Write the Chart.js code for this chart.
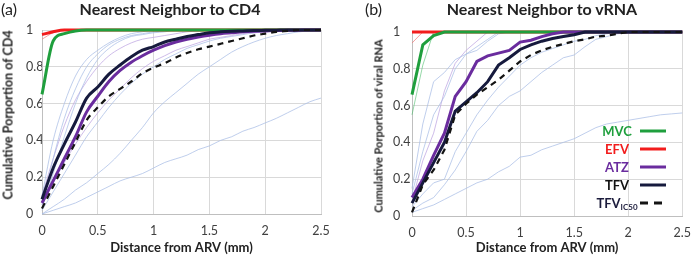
<!DOCTYPE html>
<html>
<head>
<meta charset="utf-8">
<script src="https://cdn.jsdelivr.net/npm/chart.js@4"></script>
<style>
  body { margin: 0; background: #fff; font-family: Lato, "Open Sans", sans-serif; }
  #wrap { position: relative; width: 700px; height: 256px; overflow: hidden; }
  .panel { position: absolute; top: 0; width: 350px; height: 256px; }
  .tag { position: absolute; top: 0; font-size: 16px; line-height: 18px; color: #222; }
  .ttl { position: absolute; top: 0; font-size: 16px; font-weight: bold; line-height: 18px; color: #222; text-align: center; white-space: nowrap; }
  .ytitle { position: absolute; font-weight: bold; color: #222; white-space: nowrap;
            transform: translate(-50%, -50%) rotate(-90deg); }
  .lg { position: absolute; font-size: 13px; font-weight: bold; line-height: 16px; text-align: center; width: 50px; white-space: nowrap; }
  .lg sub { font-size: 8px; vertical-align: -2px; }
  .lgline { position: absolute; width: 26px; height: 6px; }
</style>
</head>
<body>
<div id="wrap">
  <div class="panel" style="left:0"><canvas id="chartA"></canvas></div>
  <div class="panel" style="left:350px"><canvas id="chartB"></canvas></div>

  <div class="tag" style="left:1px">(a)</div>
  <div class="ttl" style="left:70px;width:200px">Nearest Neighbor to CD4</div>
  <div class="ytitle" style="left:8px;top:115px;font-size:12.5px">Cumulative Porportion of CD4</div>

  <div class="tag" style="left:365px">(b)</div>
  <div class="ttl" style="left:442px;width:200px">Nearest Neighbor to vRNA</div>
  <div class="ytitle" style="left:378px;top:126px;font-size:11px">Cumulative Porportion of viral RNA</div>

  <div id="legend"></div>
</div>

<script>
// distance from ARV (mm), shared x values
const dist = [0, 0.1, 0.2, 0.3, 0.4, 0.5, 0.6, 0.7, 0.8, 0.9, 1.0, 1.1, 1.2,
              1.3, 1.4, 1.5, 1.6, 1.7, 1.8, 1.9, 2.0, 2.1, 2.2, 2.3, 2.4, 2.5];

// (a) nearest neighbor to CD4 - main curves
const cd4MVC  = [0.65,0.94,0.98,0.995,1,1,1,1,1,1,1,1,1,1,1,1,1,1,1,1,1,1,1,1,1,1];
const cd4EFV  = [0.975,0.99,1,1,1,1,1,1,1,1,1,1,1,1,1,1,1,1,1,1,1,1,1,1,1,1];
const cd4ATZ  = [0.06,0.18,0.30,0.42,0.555,0.64,0.72,0.78,0.825,0.86,0.89,0.915,0.935,0.95,0.962,0.972,0.98,0.985,0.99,0.993,0.995,0.997,0.998,0.999,1,1];
const cd4TFV  = [0.08,0.25,0.38,0.50,0.63,0.69,0.76,0.81,0.855,0.89,0.91,0.935,0.95,0.965,0.975,0.985,0.99,0.993,0.995,0.997,0.998,0.999,1,1,1,1];
const cd4IC50 = [0.03,0.15,0.27,0.39,0.51,0.58,0.64,0.68,0.72,0.765,0.795,0.82,0.85,0.875,0.895,0.91,0.925,0.94,0.955,0.97,0.98,0.99,0.995,1,1,1];
// (a) individual replicates (thin)
const cd4Rep1 = [0,0.02,0.04,0.06,0.09,0.12,0.15,0.18,0.2,0.22,0.25,0.28,0.3,0.32,0.35,0.37,0.4,0.42,0.45,0.47,0.495,0.52,0.55,0.58,0.61,0.63];
const cd4Rep2 = [0,0.04,0.08,0.13,0.17,0.22,0.27,0.33,0.4,0.47,0.55,0.61,0.66,0.71,0.76,0.8,0.84,0.88,0.91,0.935,0.955,0.97,0.98,0.99,0.995,1];
const cd4Rep3 = [0.1,0.4,0.6,0.75,0.84,0.89,0.93,0.96,0.98,0.99,1,1,1,1,1,1,1,1,1,1,1,1,1,1,1,1];
const cd4Rep4 = [0.05,0.3,0.52,0.68,0.8,0.87,0.92,0.95,0.97,0.98,0.99,0.995,1,1,1,1,1,1,1,1,1,1,1,1,1,1];
const cd4Rep5 = [0.03,0.22,0.42,0.6,0.74,0.84,0.9,0.94,0.965,0.975,0.985,0.99,1,1,1,1,1,1,1,1,1,1,1,1,1,1];
const cd4Rep6 = [0.05,0.17,0.28,0.38,0.47,0.55,0.62,0.68,0.74,0.79,0.83,0.86,0.89,0.91,0.93,0.95,0.96,0.97,0.98,0.985,0.99,0.995,1,1,1,1];
const cd4Rep7 = [0.02,0.12,0.22,0.32,0.42,0.5,0.58,0.65,0.71,0.76,0.8,0.84,0.87,0.9,0.92,0.94,0.955,0.965,0.975,0.985,0.99,0.995,1,1,1,1];
const cd4Rep8 = [0.1,0.3,0.48,0.62,0.72,0.8,0.86,0.9,0.93,0.95,0.96,0.97,0.98,0.99,0.995,1,1,1,1,1,1,1,1,1,1,1];
const cd4EFVRep = [0.95,0.985,1,1,1,1,1,1,1,1,1,1,1,1,1,1,1,1,1,1,1,1,1,1,1,1];

// (b) nearest neighbor to viral RNA - main curves
const rnaMVC  = [0.66,0.93,0.98,1,1,1,1,1,1,1,1,1,1,1,1,1,1,1,1,1,1,1,1,1,1,1];
const rnaEFV  = [1,1,1,1,1,1,1,1,1,1,1,1,1,1,1,1,1,1,1,1,1,1,1,1,1,1];
const rnaATZ  = [0.1,0.2,0.33,0.45,0.65,0.73,0.84,0.87,0.885,0.9,0.945,0.955,0.975,0.99,1,1,1,1,1,1,1,1,1,1,1,1];
const rnaTFV  = [0.07,0.18,0.29,0.4,0.57,0.62,0.67,0.73,0.82,0.86,0.905,0.93,0.95,0.965,0.975,0.985,1,1,1,1,1,1,1,1,1,1];
const rnaIC50 = [0.02,0.17,0.25,0.36,0.55,0.61,0.66,0.7,0.74,0.79,0.84,0.875,0.9,0.92,0.935,0.95,0.96,0.975,0.98,0.99,1,1,1,1,1,1];
// (b) individual replicates (thin)
const rnaRep1 = [0.02,0.04,0.06,0.09,0.12,0.15,0.18,0.2,0.24,0.27,0.32,0.33,0.36,0.38,0.4,0.42,0.45,0.48,0.5,0.51,0.52,0.53,0.54,0.55,0.555,0.56];
const rnaRep2 = [0.03,0.07,0.1,0.17,0.25,0.35,0.46,0.52,0.6,0.65,0.68,0.73,0.78,0.82,0.86,0.875,0.92,0.96,0.975,0.99,1,1,1,1,1,1];
const rnaRep3 = [0.05,0.12,0.18,0.2,0.35,0.45,0.55,0.63,0.7,0.76,0.82,0.86,0.89,0.91,0.93,0.95,0.96,0.98,0.99,1,1,1,1,1,1,1];
const rnaRep4 = [0.15,0.5,0.73,0.78,0.85,0.88,0.92,0.96,1,1,1,1,1,1,1,1,1,1,1,1,1,1,1,1,1,1];
const rnaRep5 = [0.12,0.35,0.55,0.65,0.8,0.88,0.9,0.95,0.99,1,1,1,1,1,1,1,1,1,1,1,1,1,1,1,1,1];
const rnaRep6 = [0.08,0.3,0.45,0.68,0.83,0.9,0.95,1,1,1,1,1,1,1,1,1,1,1,1,1,1,1,1,1,1,1];
const rnaMVCRep = [0.55,0.82,1,1,1,1,1,1,1,1,1,1,1,1,1,1,1,1,1,1,1,1,1,1,1,1];
const rnaEFVRep = [0.94,1,1,1,1,1,1,1,1,1,1,1,1,1,1,1,1,1,1,1,1,1,1,1,1,1];

const legendNames = ['MVC', 'EFV', 'ATZ', 'TFV', 'TFV'];

const GREEN = '#1f9f3d', RED = '#f21c1c', PURPLE = '#6a2c9e', NAVY = '#161a3d', DASH = '#141414';
const THIN_BLUE = 'rgba(170,190,230,0.75)', THIN_PURPLE = 'rgba(190,165,225,0.75)';

function pts(ys) {
  return dist.map((d, i) => ({ x: d, y: ys[i] }));
}

function line(label, ys, color, width, order, dash) {
  return {
    label: label,
    data: pts(ys),
    borderColor: color,
    borderWidth: width,
    borderDash: dash || [],
    pointRadius: 0,
    fill: false,
    order: order,
    clip: false
  };
}

function thin(ys, color) {
  return line('', ys, color, 1, 10);
}

// "1", "0.8", ... "0" like the original axis
function fmt(v) {
  return String(+v.toFixed(1));
}

function makePanel(id, datasets, geo, smooth) {
  return new Chart(document.getElementById(id), {
    type: 'line',
    data: { datasets: datasets },
    options: {
      responsive: true,
      maintainAspectRatio: false,
      animation: false,
      cubicInterpolationMode: smooth ? 'monotone' : 'default',
      layout: { padding: { left: geo.left, right: geo.right, top: geo.top, bottom: 0 } },
      plugins: { legend: { display: false }, tooltip: { enabled: false } },
      scales: {
        x: {
          type: 'linear', min: 0, max: 2.5,
          afterFit: s => { s.height = geo.xh; },
          ticks: { stepSize: 0.5, padding: 9, color: '#404040', callback: fmt,
                   font: { family: 'Lato', size: 12.5 } },
          grid: { color: '#d9d9d9', drawTicks: false },
          border: { color: '#bfbfbf' },
          title: { display: true, text: 'Distance from ARV (mm)', color: '#222', padding: 0,
                   font: { family: 'Lato', size: 13, weight: 'bold', lineHeight: 1.2 } }
        },
        y: {
          min: 0, max: 1,
          afterFit: s => { s.width = geo.yw; },
          ticks: { stepSize: 0.2, crossAlign: 'far', color: '#404040', callback: fmt,
                   font: { family: 'Lato', size: 12.5 } },
          grid: { color: '#d9d9d9', drawTicks: false },
          border: { color: '#bfbfbf' }
        }
      }
    }
  });
}

makePanel('chartA', [
  thin(cd4Rep1, THIN_BLUE), thin(cd4Rep2, THIN_BLUE), thin(cd4Rep3, THIN_BLUE),
  thin(cd4Rep4, THIN_BLUE), thin(cd4Rep5, THIN_BLUE), thin(cd4Rep6, THIN_PURPLE),
  thin(cd4Rep7, THIN_BLUE), thin(cd4Rep8, THIN_PURPLE), thin(cd4EFVRep, 'rgba(240,120,120,0.7)'),
  line('EFV', cd4EFV, RED, 3, 5),
  line('MVC', cd4MVC, GREEN, 3, 4),
  line('ATZ', cd4ATZ, PURPLE, 3, 3),
  line('TFV', cd4TFV, NAVY, 3, 2),
  line('TFV IC50', cd4IC50, DASH, 2.2, 1, [6, 5])
], { left: 26, right: 29, top: 30, yw: 16, xh: 42 }, true);

makePanel('chartB', [
  thin(rnaRep1, THIN_BLUE), thin(rnaRep2, THIN_BLUE), thin(rnaRep3, THIN_BLUE),
  thin(rnaRep4, THIN_BLUE), thin(rnaRep5, THIN_BLUE), thin(rnaRep6, THIN_PURPLE),
  thin(rnaMVCRep, 'rgba(80,190,110,0.6)'), thin(rnaEFVRep, 'rgba(240,120,120,0.7)'),
  line('EFV', rnaEFV, RED, 3, 5),
  line('MVC', rnaMVC, GREEN, 3, 4),
  line('ATZ', rnaATZ, PURPLE, 3, 3),
  line('TFV', rnaTFV, NAVY, 3, 2),
  line('TFV IC50', rnaIC50, DASH, 2.2, 1, [6, 5])
], { left: 43, right: 9, top: 32, yw: 19, xh: 40 }, false);

// legend inside panel (b)
const legendColors = [GREEN, RED, PURPLE, '#111', '#1c1c3c'];
const legendLines = [GREEN, RED, PURPLE, NAVY, DASH];
const legendRows = [131, 148.5, 167, 185, 203];
const lg = document.getElementById('legend');
legendNames.forEach((name, i) => {
  const t = document.createElement('div');
  t.className = 'lg';
  t.style.left = '592px';
  t.style.top = (legendRows[i] - 8) + 'px';
  t.style.color = legendColors[i];
  t.innerHTML = i === 4 ? name + '<sub>IC50</sub>' : name;
  lg.appendChild(t);
  const s = document.createElementNS('http://www.w3.org/2000/svg', 'svg');
  s.setAttribute('class', 'lgline');
  s.style.left = '640px';
  s.style.top = (legendRows[i] - 3) + 'px';
  const l = document.createElementNS('http://www.w3.org/2000/svg', 'line');
  l.setAttribute('x1', 0); l.setAttribute('x2', 26);
  l.setAttribute('y1', 3); l.setAttribute('y2', 3);
  l.setAttribute('stroke', legendLines[i]);
  l.setAttribute('stroke-width', 3);
  if (i === 4) l.setAttribute('stroke-dasharray', '8 6');
  s.appendChild(l);
  lg.appendChild(s);
});
</script>
</body>
</html>
